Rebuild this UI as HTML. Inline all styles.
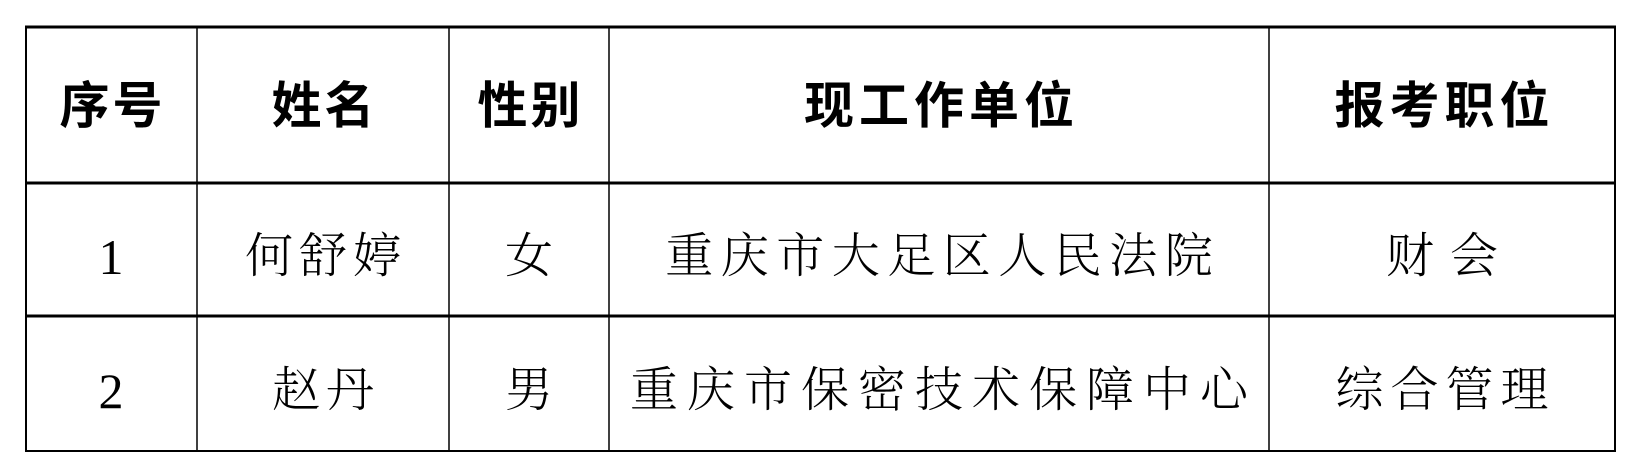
<!DOCTYPE html>
<html><head><meta charset="utf-8"><style>
html,body{margin:0;padding:0;background:#fff;width:1634px;height:472px;overflow:hidden;position:relative}
.t{position:absolute;transform:translate(-50%,-50%);white-space:nowrap;color:#000;font-size:48px;line-height:1}
.h{font-family:"Liberation Sans","Noto Sans CJK SC",sans-serif;font-weight:bold;font-size:50px}
.b{font-family:"Liberation Serif","Noto Serif CJK SC",serif;font-weight:300}
</style></head><body>
<svg width="1634" height="472" style="position:absolute;left:0;top:0">
<g stroke="#000" fill="none">
<line x1="25" y1="27" x2="1616" y2="27" stroke-width="3"/>
<line x1="25" y1="183" x2="1616" y2="183" stroke-width="3"/>
<line x1="25" y1="316" x2="1616" y2="316" stroke-width="3"/>
<line x1="25" y1="451" x2="1616" y2="451" stroke-width="2"/>
<line x1="26" y1="26" x2="26" y2="452" stroke-width="2"/>
<line x1="197" y1="27" x2="197" y2="451" stroke-width="1.5"/>
<line x1="449" y1="27" x2="449" y2="451" stroke-width="1.5"/>
<line x1="609" y1="27" x2="609" y2="451" stroke-width="1.5"/>
<line x1="1269" y1="27" x2="1269" y2="451" stroke-width="1.5"/>
<line x1="1615" y1="26" x2="1615" y2="452" stroke-width="2"/>
</g></svg>
<div class="t h" style="left:111px;top:106px;letter-spacing:3px;text-indent:3px">序号</div>
<div class="t h" style="left:323px;top:106px;letter-spacing:3px;text-indent:3px">姓名</div>
<div class="t h" style="left:529px;top:106px;letter-spacing:3px;text-indent:3px">性别</div>
<div class="t h" style="left:939px;top:106px;letter-spacing:5px;text-indent:5px">现工作单位</div>
<div class="t h" style="left:1442px;top:106px;letter-spacing:5px;text-indent:5px">报考职位</div>

<div class="t b" style="left:111px;top:257px;font-size:50px;font-weight:normal">1</div>
<div class="t b" style="left:323px;top:257px;letter-spacing:6px;text-indent:6px">何舒婷</div>
<div class="t b" style="left:529px;top:257px">女</div>
<div class="t b" style="left:939px;top:257px;letter-spacing:7.5px;text-indent:7.5px">重庆市大足区人民法院</div>
<div class="t b" style="left:1442px;top:257px;letter-spacing:16px;text-indent:16px">财会</div>

<div class="t b" style="left:111px;top:391px;font-size:50px;font-weight:normal">2</div>
<div class="t b" style="left:323px;top:391px;letter-spacing:6px;text-indent:6px">赵丹</div>
<div class="t b" style="left:529px;top:391px">男</div>
<div class="t b" style="left:939px;top:391px;letter-spacing:9px;text-indent:9px">重庆市保密技术保障中心</div>
<div class="t b" style="left:1442px;top:391px;letter-spacing:7px;text-indent:7px">综合管理</div>
</body></html>
